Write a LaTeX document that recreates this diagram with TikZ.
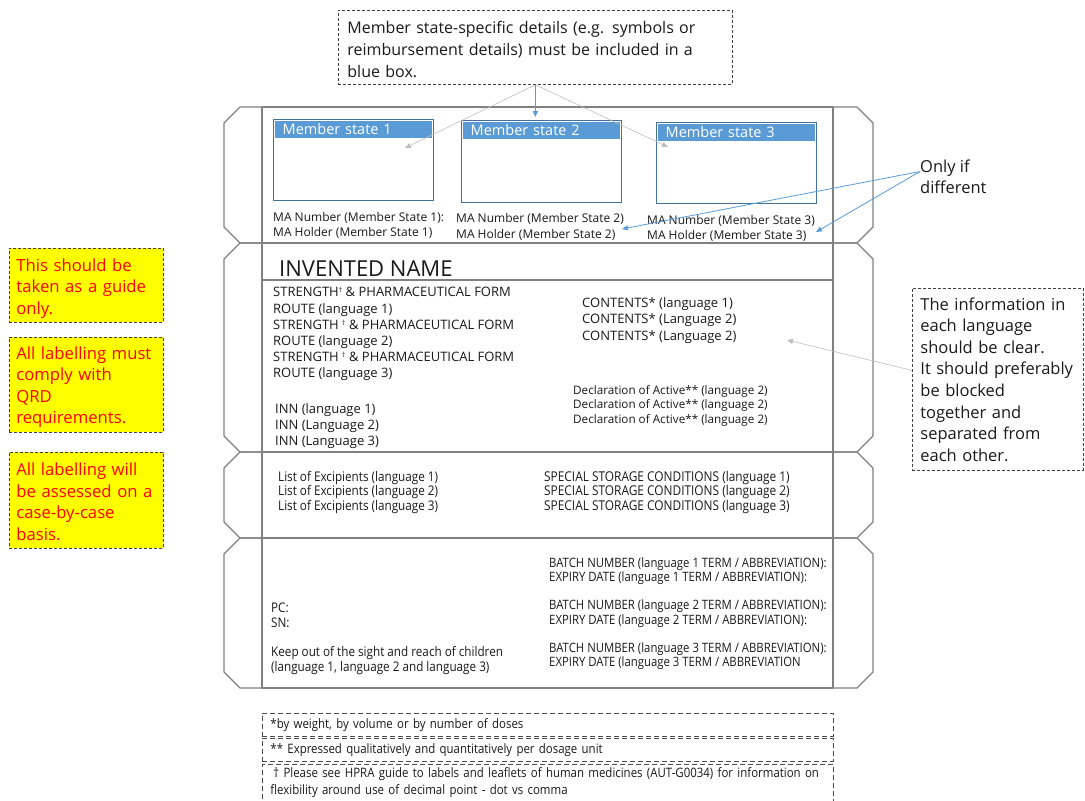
\documentclass[tikz,border=0pt]{standalone}
\usepackage{fontspec}
\setmainfont{Open Sans}
\newfontfamily\cond{Open Sans}[FakeStretch=0.88]
\usetikzlibrary{arrows.meta}
\definecolor{pkgc}{HTML}{808080}
\definecolor{msborder}{HTML}{41719C}
\definecolor{mshead}{HTML}{5B9BD5}
\definecolor{arrblue}{HTML}{5B9BD5}
\definecolor{arrgray}{HTML}{BFBFBF}
\definecolor{ylw}{HTML}{FFFF00}
\definecolor{redtxt}{HTML}{FF0000}
\definecolor{txtc}{HTML}{1A1A1A}
\newcommand\fz[2]{\fontsize{#1}{#2}\selectfont}
\newcommand\dg{{\fontsize{7}{7}\selectfont\raisebox{3.5pt}{†}}}
\begin{document}
\begin{tikzpicture}[x=1pt,y=-1pt,
  every node/.style={inner sep=0pt},
  pkgline/.style={draw=pkgc, line width=1.1pt, line join=miter},
  t/.style={anchor=mid west, yshift=-2.5pt, text=txtc, font=\fz{12}{14}},
  tb/.style={t, font=\fz{13}{15}},
  ts/.style={t, font=\cond\fz{13.3}{15}},
  tc/.style={t, font=\cond\fz{12.9}{15}},
  msbox/.style={draw=msborder, line width=1pt, fill=white, anchor=north west, minimum width=160pt, minimum height=81pt},
  mshd/.style={fill=mshead, anchor=north west, text=white, text width=141pt, inner xsep=8pt, minimum height=17pt, align=left, font=\fz{14.5}{17}},
  dashbox/.style={draw=black!75, line width=0.8pt, dash pattern=on 3pt off 2pt, fill=white, anchor=north west, align=left},
  ybox/.style={draw=black!75, line width=0.8pt, dash pattern=on 3pt off 2pt, fill=ylw, text=redtxt, anchor=north west, text width=140pt, inner xsep=7pt, align=left, font=\fz{16.7}{21.5}},
  fbox/.style={draw=black!70, line width=0.9pt, dash pattern=on 5pt off 3pt, anchor=north west, text width=555pt, inner xsep=8pt, align=left, text=txtc, font=\cond\fz{13}{17}},
  bluearr/.style={draw=arrblue, line width=0.8pt, -{Triangle[length=6pt,width=5pt]}},
  grayarr/.style={draw=arrgray, line width=0.6pt, -{Triangle[length=6pt,width=5pt]}}
]
\useasboundingbox (0,0) rectangle (1085,801);
\fill[white] (0,0) rectangle (1085,801);

% package outline
\foreach \a/\b in {107/243,243/452,452/538,538/688}{
  \draw[pkgline] (262,\a) -- (240,\a) -- (224,\a+16) -- (224,\b-16) -- (240,\b) -- (262,\b);
  \draw[pkgline] (833,\a) -- (857,\a) -- (873,\a+16) -- (873,\b-16) -- (857,\b) -- (833,\b);
  \draw[pkgline] (262,\a) -- (833,\a);
}
\draw[pkgline] (262,688) -- (833,688);
\draw[pkgline] (262,107) -- (262,688);
\draw[pkgline] (833,107) -- (833,688);
\draw[pkgline] (262,280) -- (833,280);

% member state boxes
\node[msbox] (ms1) at (273,119) {};
\node[mshd] (ms1h) at ([xshift=1.5pt,yshift=-1.5pt]ms1.north west) {Member state 1};
\node[msbox, minimum height=82pt] (ms2) at (461,120) {};
\node[mshd] (ms2h) at ([xshift=1.5pt,yshift=-1.5pt]ms2.north west) {Member state 2};
\node[msbox] (ms3) at (656,122) {};
\node[mshd] (ms3h) at ([xshift=1.5pt,yshift=-1.5pt]ms3.north west) {Member state 3};

\node[t] (ma1a) at (273,216) {MA Number (Member State 1):};
\node[t] (ma1b) at (273,231) {MA Holder (Member State 1)};
\node[t] (ma2a) at (456,217) {MA Number (Member State 2)};
\node[t] (ma2b) at (456,233) {MA Holder (Member State 2)};
\node[t] (ma3a) at (647,219) {MA Number (Member State 3)};
\node[t] (ma3b) at (647,234) {MA Holder (Member State 3)};

% panel 2
\node[t, font=\fz{22}{24}, yshift=-3.5pt] (inv) at (279,268) {INVENTED NAME};
\node[tb] (s1) at (273,291) {STRENGTH\dg{} \& PHARMACEUTICAL FORM};
\node[tb] (r1) at (273,308) {ROUTE (language 1)};
\node[tb] (s2) at (273,324) {STRENGTH \dg{} \& PHARMACEUTICAL FORM};
\node[tb] (r2) at (273,340) {ROUTE (language 2)};
\node[tb] (s3) at (273,356) {STRENGTH \dg{} \& PHARMACEUTICAL FORM};
\node[tb] (r3) at (273,372) {ROUTE (language 3)};
\node[tb] (inn1) at (275,408) {INN (language 1)};
\node[tb] (inn2) at (275,424) {INN (Language 2)};
\node[tb] (inn3) at (275,440) {INN (Language 3)};
\node[tb] (c1) at (582,302) {CONTENTS* (language 1)};
\node[tb] (c2) at (582,318) {CONTENTS* (Language 2)};
\node[tb] (c3) at (582,335) {CONTENTS* (Language 2)};
\node[t, font=\fz{11.7}{14}] (d1) at (573,389) {Declaration of Active** (language 2)};
\node[t, font=\fz{11.7}{14}] (d2) at (573,403) {Declaration of Active** (language 2)};
\node[t, font=\fz{11.7}{14}] (d3) at (573,418) {Declaration of Active** (language 2)};

% panel 3
\node[ts] (e1) at (278,476) {List of Excipients (language 1)};
\node[ts] (e2) at (278,490) {List of Excipients (language 2)};
\node[ts] (e3) at (278,505) {List of Excipients (language 3)};
\node[ts, font=\cond\fz{13.5}{15}] (sp1) at (544,476) {SPECIAL STORAGE CONDITIONS (language 1)};
\node[ts, font=\cond\fz{13.5}{15}] (sp2) at (544,490) {SPECIAL STORAGE CONDITIONS (language 2)};
\node[ts, font=\cond\fz{13.5}{15}] (sp3) at (544,505) {SPECIAL STORAGE CONDITIONS (language 3)};

% panel 4
\node[tc] (b1) at (549,562) {BATCH NUMBER (language 1 TERM / ABBREVIATION):};
\node[tc] (x1) at (549,576) {EXPIRY DATE (language 1 TERM / ABBREVIATION):};
\node[tc] (b2) at (549,604) {BATCH NUMBER (language 2 TERM / ABBREVIATION):};
\node[tc] (x2) at (549,619) {EXPIRY DATE (language 2 TERM / ABBREVIATION):};
\node[tc] (b3) at (549,647) {BATCH NUMBER (language 3 TERM / ABBREVIATION):};
\node[tc] (x3) at (549,661) {EXPIRY DATE (language 3 TERM / ABBREVIATION};
\node[ts] (pc) at (271,607) {PC:};
\node[ts] (sn) at (271,622) {SN:};
\node[ts] (k1) at (271,651) {Keep out of the sight and reach of children};
\node[ts] (k2) at (271,666) {(language 1, language 2 and language 3)};

% top callout
\node[dashbox, text width=376pt, inner xsep=9pt, minimum height=74pt, font=\fz{16}{22}, text=txtc] (co) at (338,10)
  {\makebox[376pt][s]{\rule{0pt}{16pt}Member state-specific details (e.g. symbols or}\\\makebox[376pt][s]{reimbursement details) must be included in a}\\blue box.};
\coordinate (g1) at (405,148);
\coordinate (g3) at (668,147);
\draw[grayarr] (co.south) -- (g1);
\draw[grayarr] (co.south) -- (g3);
\draw[bluearr, shorten >=3pt] (co.south) -- (co.south |- ms2.north);

% only if different
\node[anchor=west, align=left, text=txtc, font=\fz{16.5}{21}] (oid) at (920,176.5) {Only if\\different};
\coordinate (oa2) at (622,229);
\coordinate (oa3) at (816,232);
\draw[bluearr] ([yshift=5pt]oid.west) -- (oa2);
\draw[bluearr] ([yshift=5pt]oid.west) -- (oa3);

% right note
\node[dashbox, text width=155pt, inner xsep=8pt, minimum height=182pt, font=\fz{16.5}{21.6}, text=txtc] (rb) at (912,288)
  {The information in\\each language\\should be clear.\\It should preferably\\be blocked\\together and\\separated from\\each other.};
\coordinate (cg) at (787,340);
\draw[grayarr] ([yshift=9pt]rb.west) -- (cg);

% yellow notes
\node[ybox, minimum height=74pt] (y1) at (9,248) {\rule{0pt}{18.5pt}This should be\\taken as a guide\\only.};
\node[ybox, minimum height=95pt] (y2) at (9,337) {\rule{0pt}{17pt}All labelling must\\comply with\\QRD\\requirements.};
\node[ybox, minimum height=96pt] (y3) at (9,452) {\rule{0pt}{15pt}All labelling will\\be assessed on a\\case-by-case\\basis.};

% footnotes
\node[fbox, minimum height=23pt, yshift=-1pt, text depth=2pt] (f1) at (262,712) {*by weight, by volume or by number of doses};
\node[fbox, minimum height=23pt, text depth=2pt] (f2) at (262,738) {** Expressed qualitatively and quantitatively per dosage unit};
\node[fbox, inner ysep=3pt] (f3) at (262,764) {\hspace{3pt}† Please see HPRA guide to labels and leaflets of human medicines (AUT-G0034) for information on\\flexibility around use of decimal point - dot vs comma\rule[-20pt]{0pt}{1pt}};
\end{tikzpicture}
\end{document}
